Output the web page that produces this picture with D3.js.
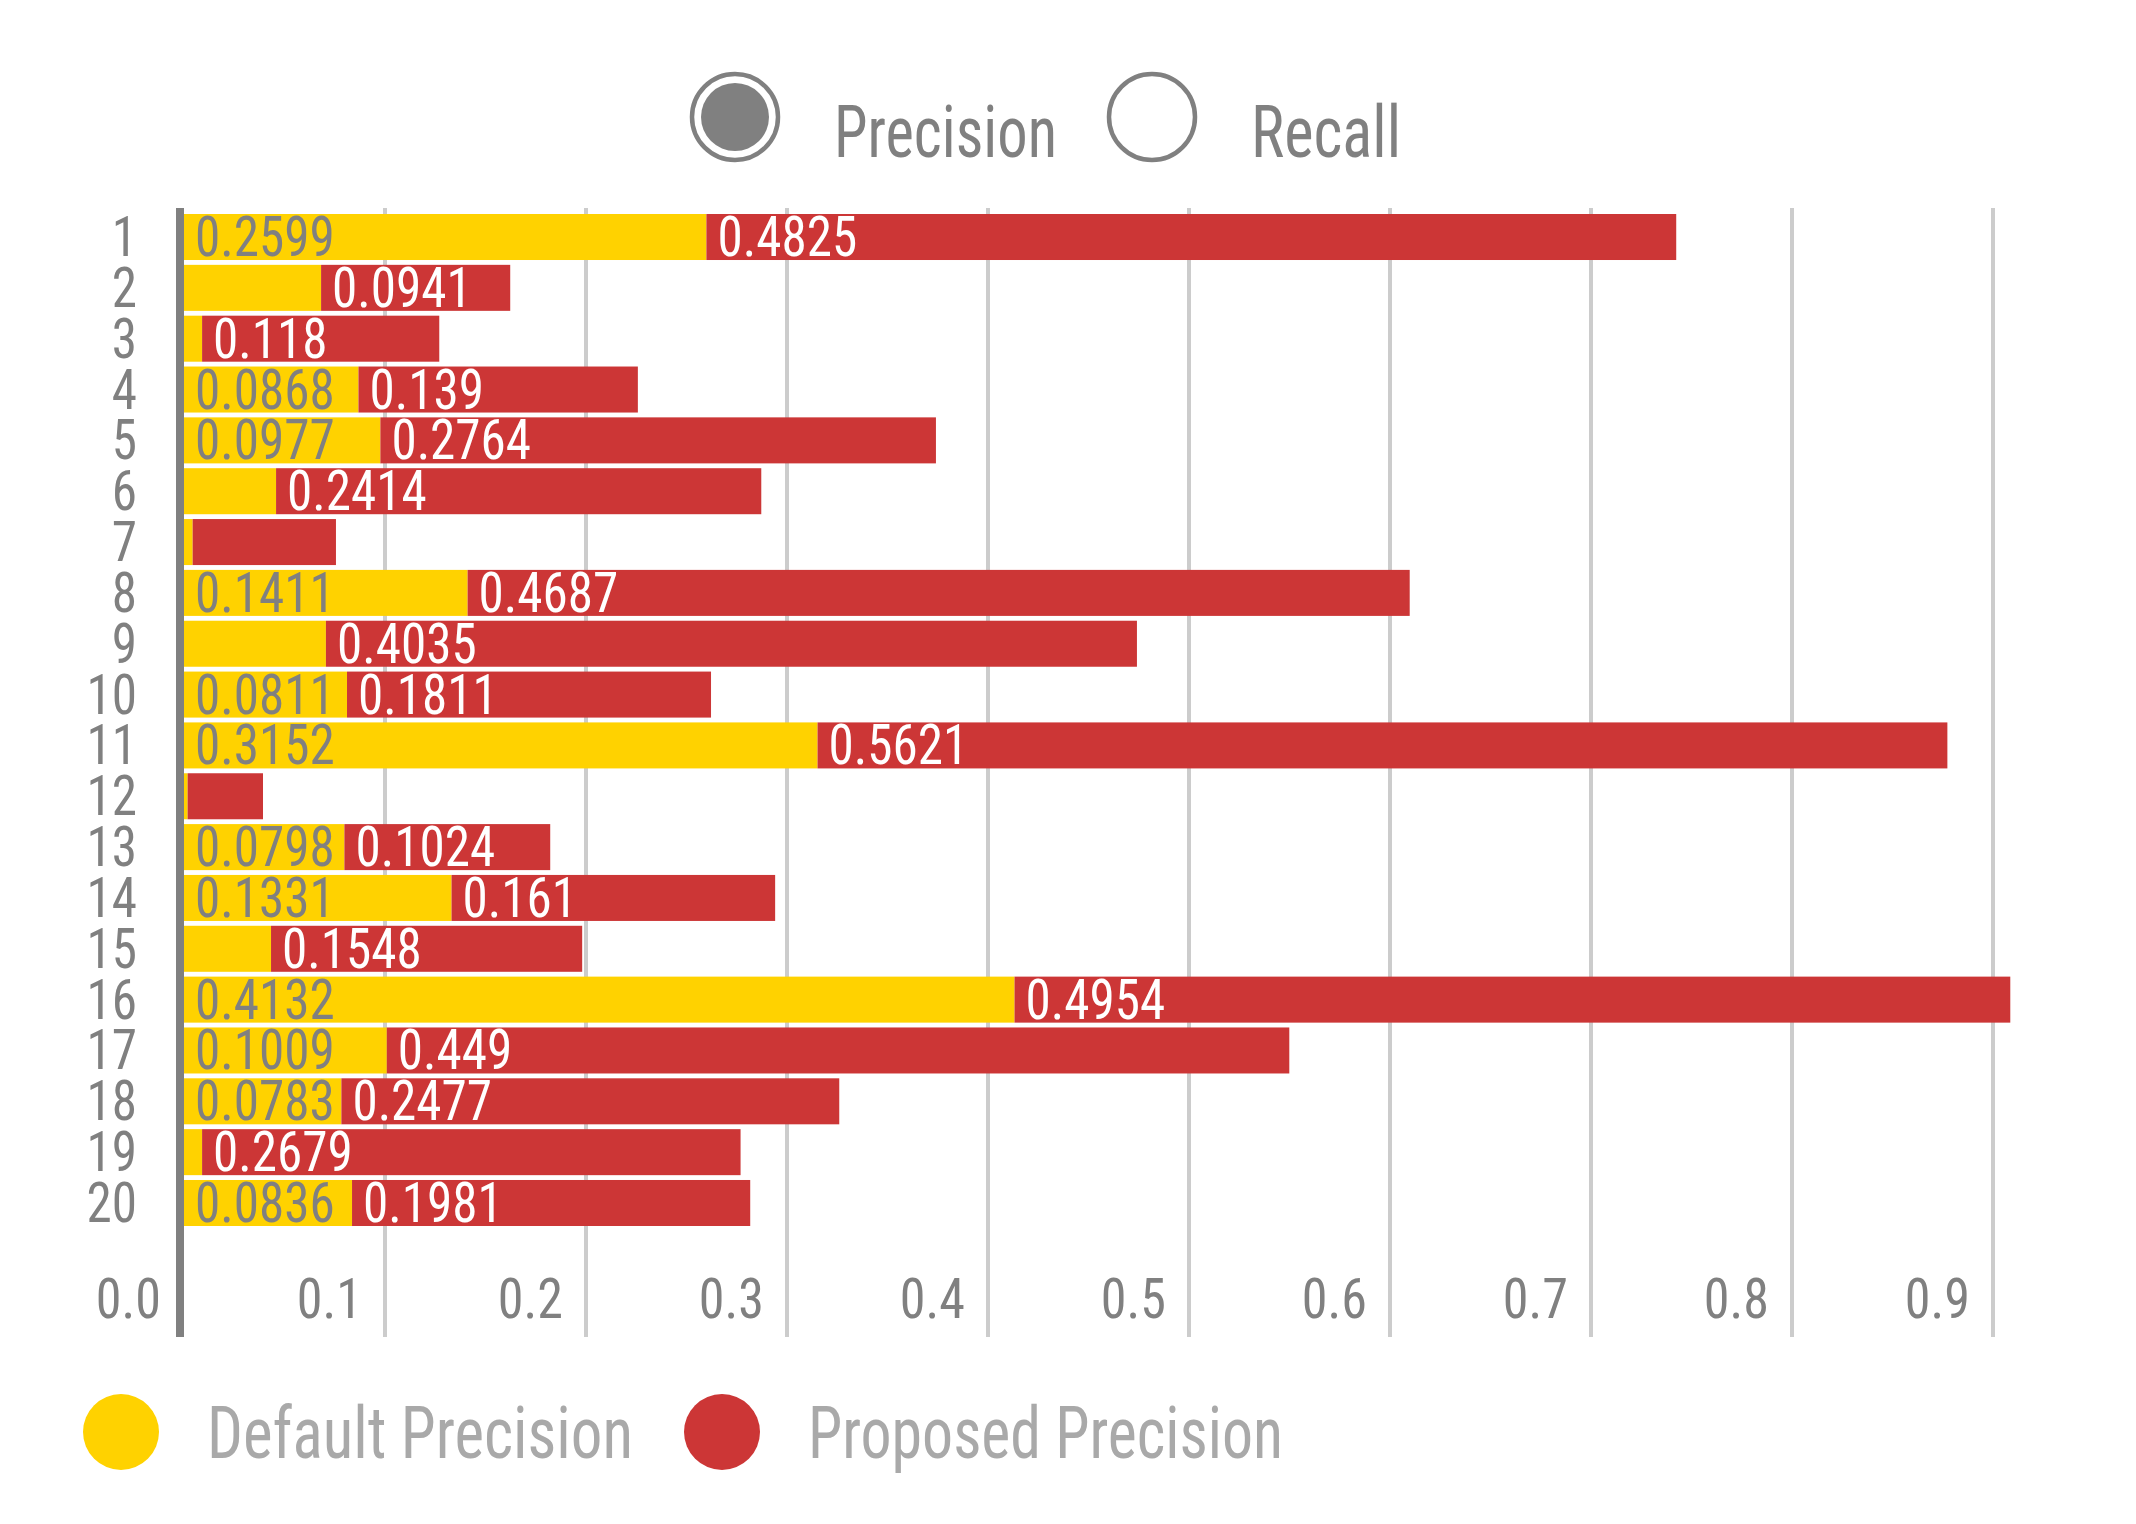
<!DOCTYPE html>
<html><head><meta charset="utf-8">
<script src="https://cdn.jsdelivr.net/npm/d3@7"></script>
<style>
html,body{margin:0;padding:0;background:#fff;}
svg{display:block;}
text{font-family:"Liberation Sans Narrow","Roboto Condensed","DejaVu Sans Condensed","Liberation Sans",sans-serif;}
</style></head>
<body>
<svg id="chart" width="2136" height="1524"></svg>
<script>
const categories = ["1","2","3","4","5","6","7","8","9","10","11","12","13","14","15","16","17","18","19","20"];
const defaultPrecision  = [0.2599,0.0682,0.0090,0.0868,0.0977,0.0458,0.0043,0.1411,0.0706,0.0811,0.3152,0.0018,0.0798,0.1331,0.0433,0.4132,0.1009,0.0783,0.0090,0.0836];
const proposedPrecision = [0.4825,0.0941,0.118,0.139,0.2764,0.2414,0.0713,0.4687,0.4035,0.1811,0.5621,0.0375,0.1024,0.161,0.1548,0.4954,0.449,0.2477,0.2679,0.1981];
const xTicks = [0.0,0.1,0.2,0.3,0.4,0.5,0.6,0.7,0.8,0.9];
const seriesNames = ["Default Precision","Proposed Precision"];
const toggleNames = ["Precision","Recall"];

const YELLOW = "#FFD200", RED = "#CC3636", GRAY = "#808080", LGRAY = "#a9a9a9", GRID = "#cccccc";
const SQUEEZE = 0.93;

const svg = d3.select("#chart");
const x = d3.scaleLinear().domain([0, 1]).range([184, 2194]);
const y = d3.scaleBand().domain(categories).range([214, 1226]).paddingInner(0.095).paddingOuter(0);
const gridTop = 208, gridBottom = 1337;

function squeeze(sel, f) {
  sel.each(function() {
    const w = this.getComputedTextLength();
    d3.select(this).attr("textLength", w * f).attr("lengthAdjust", "spacingAndGlyphs");
  });
}

// grid lines
svg.append("g").selectAll("line").data(xTicks.filter(d => d > 0)).join("line")
  .attr("x1", d => x(d)).attr("x2", d => x(d))
  .attr("y1", gridTop).attr("y2", gridBottom)
  .attr("stroke", GRID).attr("stroke-width", 4);

// tick labels
svg.append("g").selectAll("text").data(xTicks).join("text")
  .attr("x", d => x(d) - 23).attr("y", 1318)
  .attr("text-anchor", "end").attr("fill", GRAY).attr("font-size", 56)
  .text(d => d3.format(".1f")(d))
  .call(squeeze, SQUEEZE);

// stacked data
const rows = categories.map((c, i) => ({cat: c, d: defaultPrecision[i], p: proposedPrecision[i]}));

const segs = [];
rows.forEach(r => {
  segs.push({cat: r.cat, x0: 0, x1: r.d, v: r.d, fill: YELLOW, tc: GRAY});
  segs.push({cat: r.cat, x0: r.d, x1: r.d + r.p, v: r.p, fill: RED, tc: "#ffffff"});
});

const bars = svg.append("g");
bars.selectAll("rect").data(segs).join("rect")
  .attr("x", d => x(d.x0)).attr("y", d => y(d.cat))
  .attr("width", d => x(d.x1) - x(d.x0)).attr("height", y.bandwidth())
  .attr("fill", d => d.fill);

const labels = svg.append("g");
labels.selectAll("text").data(segs).join("text")
  .attr("x", d => x(d.x0) + 11).attr("y", d => y(d.cat) + y.bandwidth() / 2 + 19)
  .attr("fill", d => d.tc).attr("font-size", 55)
  .text(d => String(d.v))
  .each(function(d) {
    const w = this.getComputedTextLength() * SQUEEZE;
    d3.select(this).attr("textLength", w).attr("lengthAdjust", "spacingAndGlyphs");
    if (w + 11 > x(d.x1) - x(d.x0)) d3.select(this).remove();
  });

// row labels
svg.append("g").selectAll("text").data(categories).join("text")
  .attr("x", 137).attr("y", d => y(d) + y.bandwidth() / 2 + 19)
  .attr("text-anchor", "end").attr("fill", GRAY).attr("font-size", 55)
  .text(d => d)
  .call(squeeze, SQUEEZE);

// axis line
svg.append("line").attr("x1", 180).attr("x2", 180).attr("y1", gridTop).attr("y2", gridBottom)
  .attr("stroke", GRAY).attr("stroke-width", 8);

// top toggle legend
const tg = svg.append("g");
const togX = [735, 1152];
const togW = [223, 150];
toggleNames.forEach((n, i) => {
  tg.append("circle").attr("cx", togX[i]).attr("cy", 117).attr("r", 43)
    .attr("fill", "none").attr("stroke", GRAY).attr("stroke-width", 4.5);
  if (i === 0) tg.append("circle").attr("cx", togX[i]).attr("cy", 117).attr("r", 34).attr("fill", GRAY);
  tg.append("text").attr("x", togX[i] + 99).attr("y", 157).attr("fill", GRAY)
    .attr("font-size", 72).attr("textLength", togW[i]).attr("lengthAdjust", "spacingAndGlyphs").text(n);
});

// bottom legend
const lg = svg.append("g");
const legX = [121, 722];
const legW = [426, 475];
const legC = [YELLOW, RED];
seriesNames.forEach((n, i) => {
  lg.append("circle").attr("cx", legX[i]).attr("cy", 1432).attr("r", 38).attr("fill", legC[i]);
  lg.append("text").attr("x", legX[i] + 86).attr("y", 1458).attr("fill", LGRAY)
    .attr("font-size", 72).attr("textLength", legW[i]).attr("lengthAdjust", "spacingAndGlyphs").text(n);
});
</script>
</body></html>
